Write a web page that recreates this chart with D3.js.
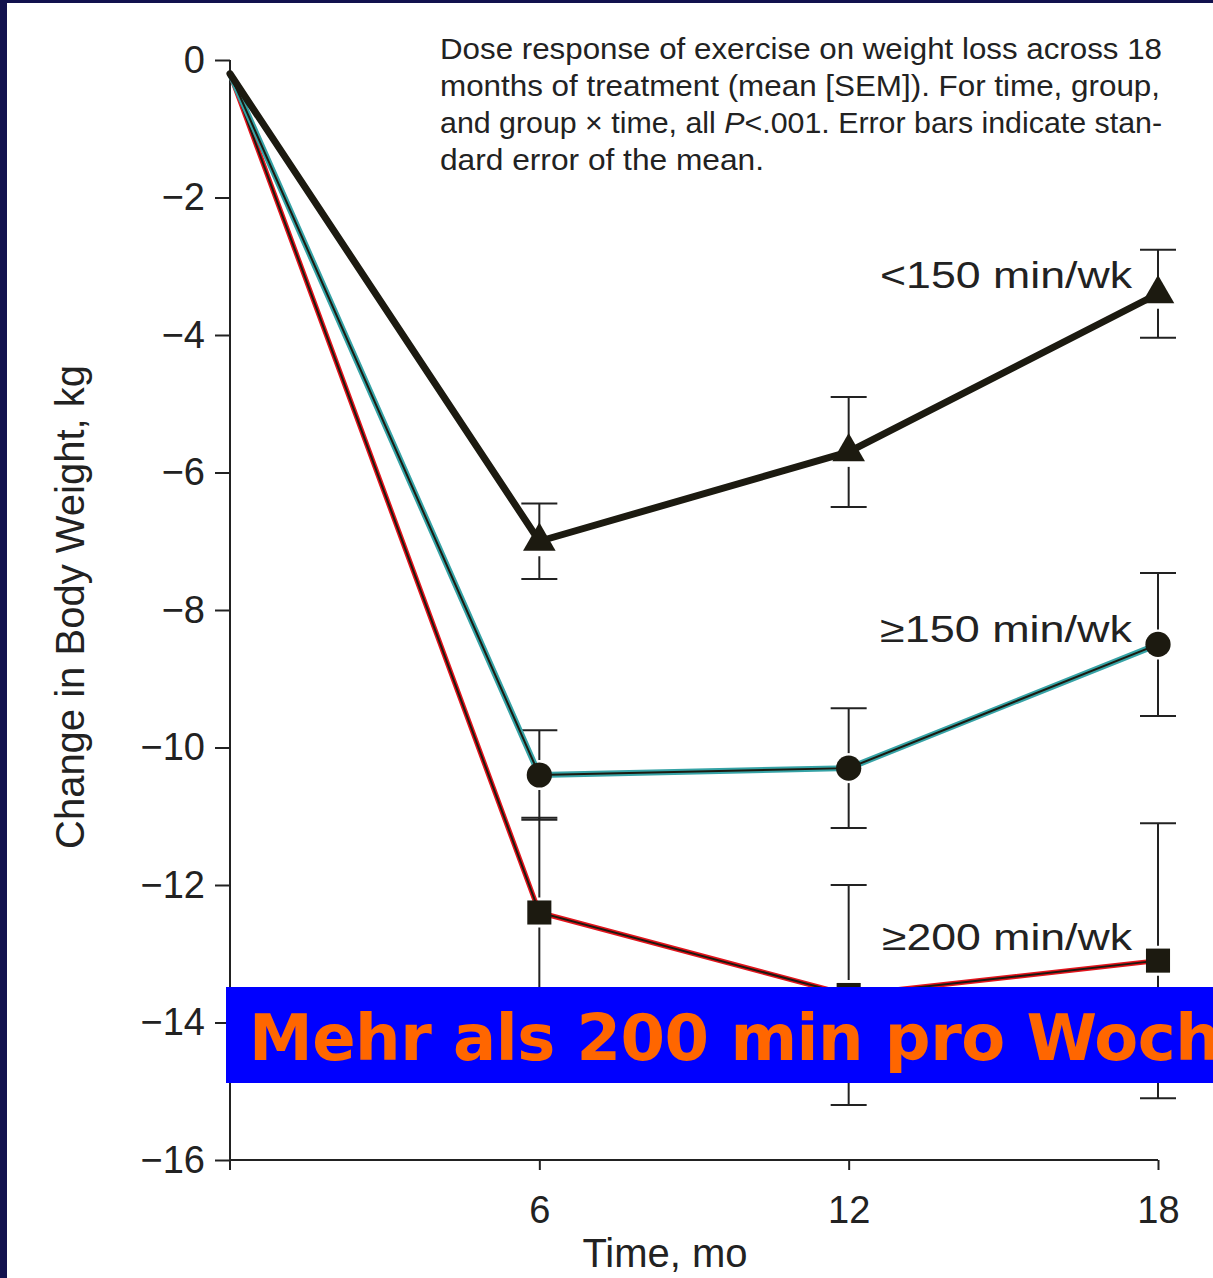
<!DOCTYPE html>
<html>
<head>
<meta charset="utf-8">
<script src="https://cdn.jsdelivr.net/npm/d3@7"></script>
<style>
  body { margin: 0; background: #12124e; }
  svg { display: block; }
</style>
</head>
<body>
<script>
var width = 1213,
    height = 1278;

// data
var months = [0, 6, 12, 18];
var seriesNames = ["<150 min/wk", "\u2265150 min/wk", "\u2265200 min/wk"];
var lowDose  = [-0.2, -7.0, -5.7, -3.4];
var midDose  = [-0.2, -10.4, -10.3, -8.5];
var highDose = [-0.2, -12.4, -13.6, -13.1];
var semLow  = [0, 0.55, 0.8, 0.64];
var semMid  = [0, 0.65, 0.87, 1.04];
var semHigh = [0, 1.38, 1.6, 2.0];
var yTicks = [0, -2, -4, -6, -8, -10, -12, -14, -16];
var xTicks = [6, 12, 18];
var caption = [
  "Dose response of exercise on weight loss across 18",
  "months of treatment (mean [SEM]). For time, group,",
  "and group \u00d7 time, all P<.001. Error bars indicate stan-",
  "dard error of the mean."
];
var banner = "Mehr als 200 min pro Woche";

var series = [
  {name: seriesNames[2], values: highDose, sem: semHigh, symbol: d3.symbolSquare, size: 580, color: "#e3141c", inner: 2, outer: 5},
  {name: seriesNames[1], values: midDose,  sem: semMid,  symbol: d3.symbolCircle, size: 500, color: "#36a3a6", inner: 2, outer: 6},
  {name: seriesNames[0], values: lowDose,  sem: semLow,  symbol: d3.symbolTriangle, size: 460, color: "#1c1a10", inner: 0, outer: 7}
];

var svg = d3.select("body").append("svg")
    .attr("width", width)
    .attr("height", height);

svg.append("rect")
    .attr("x", 7).attr("y", 3)
    .attr("width", width - 7).attr("height", height - 3)
    .attr("fill", "#fff");

var x = d3.scaleLinear().domain([0, 18]).range([230, 1158]);
var y = d3.scaleLinear().domain([0, -16]).range([60, 1160]);

var font = "'Liberation Sans', Arial, sans-serif";
var ink = "#222";

// axes
var yAxis = d3.axisLeft(y)
    .tickValues(yTicks)
    .tickSize(15)
    .tickSizeOuter(0)
    .tickPadding(10)
    .tickFormat(function(d) { return d === 0 ? "0" : "\u2212" + Math.abs(d); });

var gy = svg.append("g")
    .attr("transform", "translate(" + x(0) + ",0)")
    .call(yAxis);
gy.select(".domain").remove();
gy.append("line")
    .attr("x1", 0).attr("x2", 0)
    .attr("y1", y(0)).attr("y2", y(-16) + 10)
    .attr("stroke", ink).attr("stroke-width", 2);

var xAxis = d3.axisBottom(x)
    .tickValues(xTicks)
    .tickSize(10)
    .tickSizeOuter(0)
    .tickPadding(26);

var gx = svg.append("g")
    .attr("transform", "translate(0," + y(-16) + ")")
    .call(xAxis);
gx.select(".domain").attr("d", "M" + x(0) + ",0H" + x(18));

svg.selectAll(".tick line").attr("stroke", ink).attr("stroke-width", 2);
gx.select(".domain").attr("stroke", ink).attr("stroke-width", 2);
svg.selectAll(".tick text")
    .attr("fill", ink)
    .style("font-family", font)
    .style("font-size", "38px");

// axis titles
svg.append("text")
    .attr("transform", "translate(84,607) rotate(-90)")
    .attr("text-anchor", "middle")
    .attr("fill", ink)
    .style("font-family", font)
    .style("font-size", "40px")
    .text("Change in Body Weight, kg");

svg.append("text")
    .attr("x", 665).attr("y", 1267)
    .attr("text-anchor", "middle")
    .attr("fill", ink)
    .style("font-family", font)
    .style("font-size", "40px")
    .text("Time, mo");

// caption
var capWidths = [722, 720, 722, 324];
svg.append("g").selectAll("text")
    .data(caption)
    .enter().append("text")
    .attr("x", 440)
    .attr("y", function(d, i) { return 59 + i * 37; })
    .attr("textLength", function(d, i) { return capWidths[i]; })
    .attr("lengthAdjust", "spacingAndGlyphs")
    .attr("fill", ink)
    .style("font-family", font)
    .style("font-size", "29px")
    .each(function(d) {
      var t = d3.select(this);
      var k = d.indexOf("P<");
      if (k < 0) { t.text(d); return; }
      t.append("tspan").text(d.slice(0, k));
      t.append("tspan").style("font-style", "italic").text("P");
      t.append("tspan").text(d.slice(k + 1));
    });

// lines
var line = d3.line()
    .x(function(d, i) { return x(months[i]); })
    .y(function(d) { return y(d); });

// error bars
var cap = 18;
series.forEach(function(s) {
  var g = svg.append("g");
  s.values.forEach(function(v, i) {
    if (!s.sem[i]) return;
    var cx = x(months[i]);
    var gap = 15;
    var top = y(v + s.sem[i]), bot = y(v - s.sem[i]);
    g.append("line").attr("x1", cx).attr("x2", cx).attr("y1", top).attr("y2", y(v) - gap);
    g.append("line").attr("x1", cx).attr("x2", cx).attr("y1", y(v) + gap).attr("y2", bot);
    g.append("line").attr("x1", cx - cap).attr("x2", cx + cap).attr("y1", top).attr("y2", top);
    g.append("line").attr("x1", cx - cap).attr("x2", cx + cap).attr("y1", bot).attr("y2", bot);
  });
  g.selectAll("line").attr("stroke", ink).attr("stroke-width", 2);
});

series.forEach(function(s) {
  svg.append("path")
      .datum(s.values)
      .attr("d", line)
      .attr("fill", "none")
      .attr("stroke", s.color)
      .attr("stroke-width", s.outer)
      .attr("stroke-linejoin", "round")
      .attr("stroke-linecap", "round");
  if (s.inner) {
    svg.append("path")
        .datum(s.values)
        .attr("d", line)
        .attr("fill", "none")
        .attr("stroke", "#1c1a10")
        .attr("stroke-width", s.inner);
  }
  svg.append("g").selectAll("path")
      .data(s.values.slice(1))
      .enter().append("path")
      .attr("transform", function(d, i) { return "translate(" + x(months[i + 1]) + "," + y(d) + ")"; })
      .attr("d", d3.symbol().type(s.symbol).size(s.size))
      .attr("fill", "#1c1a10");
});

// series labels
var labelPos = [
  {name: seriesNames[0], y: 288, w: 252},
  {name: seriesNames[1], y: 642, w: 252},
  {name: seriesNames[2], y: 950, w: 250}
];
svg.append("g").selectAll("text")
    .data(labelPos)
    .enter().append("text")
    .attr("x", function(d) { return 1132 - d.w; })
    .attr("y", function(d) { return d.y; })
    .attr("textLength", function(d) { return d.w; })
    .attr("lengthAdjust", "spacingAndGlyphs")
    .attr("fill", ink)
    .style("font-family", font)
    .style("font-size", "37px")
    .text(function(d) { return d.name; });

// banner
svg.append("rect")
    .attr("x", 226).attr("y", 987)
    .attr("width", width - 226).attr("height", 96)
    .attr("fill", "#0000ff");
svg.append("text")
    .attr("x", 249).attr("y", 1060)
    .attr("fill", "#ff6600")
    .style("font-family", "'DejaVu Sans', sans-serif")
    .style("font-weight", "bold")
    .style("font-size", "64px")
    .style("letter-spacing", "-0.5px")
    .text(banner);
</script>
</body>
</html>
